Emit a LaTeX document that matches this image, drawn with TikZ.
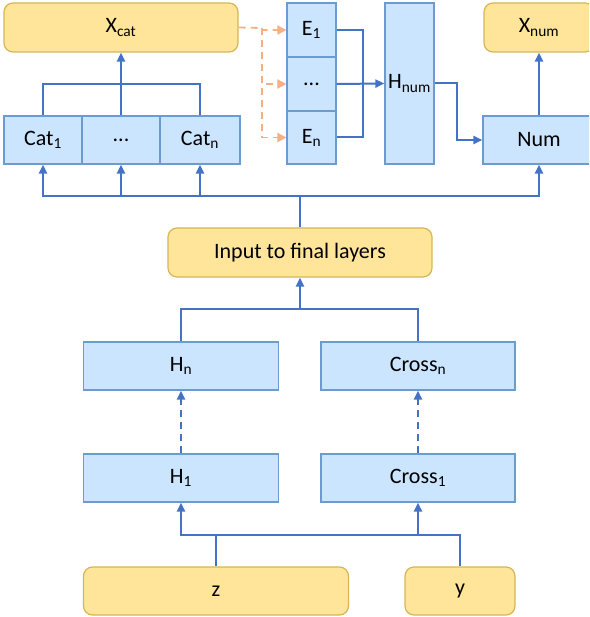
\documentclass[tikz,border=0pt]{standalone}
\usepackage{fontspec}
\setmainfont{Carlito}
\usetikzlibrary{arrows.meta}
\definecolor{bfill}{HTML}{CCE5FF}
\definecolor{bline}{HTML}{6C9BD2}
\definecolor{yfill}{HTML}{FFE599}
\definecolor{yline}{HTML}{D6B656}
\definecolor{conn}{HTML}{4472C4}
\definecolor{orng}{HTML}{F4B183}
\tikzset{
  bbox/.style={draw=bline, fill=bfill, line width=1.2pt, inner sep=0pt,
    font=\fontsize{22}{26}\selectfont},
  ybox/.style={draw=yline, fill=yfill, line width=1.2pt, rounded corners=9pt, inner sep=0pt,
    font=\fontsize{22}{26}\selectfont},
  conline/.style={draw=conn, line width=2pt},
  arr/.style={conline, -{Triangle[length=9pt,width=8pt]}},
  darr/.style={arr, dash pattern=on 7pt off 5pt},
  oarr/.style={draw=orng, line width=1.8pt, dash pattern=on 7pt off 5pt,
    -{Triangle[length=9pt,width=9pt]}},
}
\begin{document}
\begin{tikzpicture}[x=1pt,y=-1pt]
\clip (0,0) rectangle (589,617);
\fill[white] (0,0) rectangle (589,617);
% top-left
\node[ybox, minimum width=234pt, minimum height=49pt] (xcat) at (121,27.5) {X\textsubscript{cat}};
\node[bbox, minimum width=78pt, minimum height=48pt] (cat1) at (43,140) {Cat\textsubscript{1}};
\node[bbox, minimum width=78pt, minimum height=48pt] (catd) at (121,140) {...};
\node[bbox, minimum width=80pt, minimum height=48pt] (catn) at (200,140) {Cat\textsubscript{n}};
% E column
\node[bbox, minimum width=49pt, minimum height=54pt] (e1) at (311.5,30) {E\textsubscript{1}};
\node[bbox, minimum width=49pt, minimum height=54pt] (ed) at (311.5,84) {...};
\node[bbox, minimum width=49pt, minimum height=53pt] (en) at (311.5,137.5) {E\textsubscript{n}};
\node[bbox, minimum width=49pt, minimum height=161pt] (hnum) at (409.5,83.5) {H\textsubscript{num}};
\node[bbox, minimum width=112pt, minimum height=48pt] (num) at (539,140) {Num};
\node[ybox, minimum width=110pt, minimum height=49pt] (xnum) at (539,27.5) {X\textsubscript{num}};
% middle
\node[ybox, minimum width=264pt, minimum height=49pt] (input) at (300,252.5) {Input to final layers};
\node[bbox, minimum width=195pt, minimum height=48pt] (hn) at (181,366) {H\textsubscript{n}};
\node[bbox, minimum width=194pt, minimum height=48pt] (crossn) at (418,366) {Cross\textsubscript{n}};
\node[bbox, minimum width=195pt, minimum height=48pt] (h1) at (181,478) {H\textsubscript{1}};
\node[bbox, minimum width=194pt, minimum height=48pt] (cross1) at (418,478) {Cross\textsubscript{1}};
\node[ybox, minimum width=265pt, minimum height=48pt] (z) at (216,591) {z};
\node[ybox, minimum width=110pt, minimum height=48pt] (y) at (460,591) {y};
% coordinates
\coordinate (bus) at (300,196);
\coordinate (cj) at (121,84);
\coordinate (ob) at (262,28);
\coordinate (j) at (300,309);
\coordinate (bl) at (216,535);
% connectors
\draw[conline] (cat1.north) |- (cj) -| (catn.north);
\draw[arr] (catd.north) -- (xcat.south);
\draw[conline] (input.north) -- (bus);
\draw[arr] (bus) -| (cat1.south);
\draw[arr] (bus) -| (catd.south);
\draw[arr] (bus) -| (catn.south);
\draw[arr] (bus) -| (num.south);
\draw[conline] (e1.east) -- ++(26,0) |- (en.east);
\draw[arr] (ed.east) -- (hnum.west);
\draw[arr] (hnum.east) -- ++(22,0) |- (num.west);
\draw[arr] (num.north) -- (xnum.south);
\draw[oarr] (xcat.east) -- (ob) |- (e1.west);
\draw[oarr] (ob) |- (ed.west);
\draw[oarr] (ob) |- (en.west);
\draw[conline] (hn.north) |- (j) -| (crossn.north);
\draw[arr] (j) -- (input.south);
\draw[darr] (h1.north) -- (hn.south);
\draw[darr] (cross1.north) -- (crossn.south);
\draw[arr] (z.north) -- (bl) -| (h1.south);
\draw[conline] (y.north) |- (bl);
\draw[arr] (bl) -| (cross1.south);
\end{tikzpicture}
\end{document}
